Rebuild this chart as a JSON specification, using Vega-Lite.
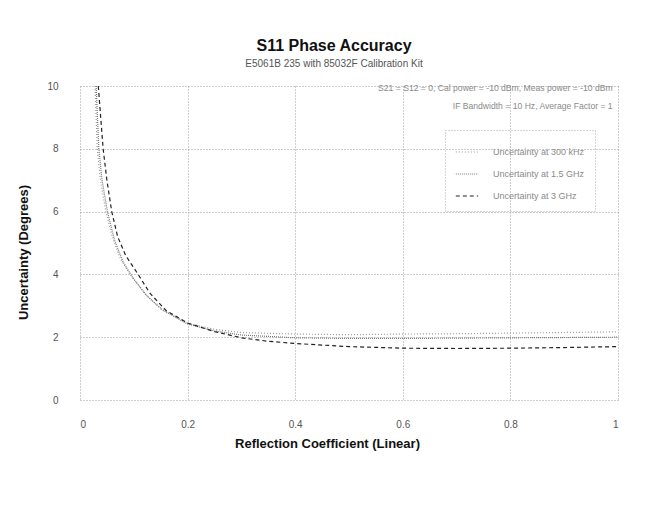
{
  "$schema": "https://vega.github.io/schema/vega-lite/v6.json",
  "autosize": {"type": "none"},
  "padding": {"left": 80, "top": 86, "right": 51, "bottom": 106},
  "width": 538,
  "height": 314,
  "background": "white",
  "title": {
    "text": "S11 Phase Accuracy",
    "subtitle": "E5061B 235 with 85032F Calibration Kit",
    "font": "Liberation Sans",
    "fontSize": 16,
    "fontWeight": "bold",
    "color": "#111",
    "subtitleFont": "Liberation Sans",
    "subtitleFontSize": 10,
    "subtitleColor": "#555",
    "subtitlePadding": 5,
    "offset": 12,
    "dx": -15,
    "anchor": "middle"
  },
  "datasets": {
    "curves": [
      {"x": 0.028, "y": 10, "series": "Uncertainty at 300 kHz"},
      {"x": 0.032, "y": 8, "series": "Uncertainty at 300 kHz"},
      {"x": 0.038, "y": 7, "series": "Uncertainty at 300 kHz"},
      {"x": 0.048, "y": 6, "series": "Uncertainty at 300 kHz"},
      {"x": 0.06, "y": 5.2, "series": "Uncertainty at 300 kHz"},
      {"x": 0.075, "y": 4.5, "series": "Uncertainty at 300 kHz"},
      {"x": 0.093, "y": 4, "series": "Uncertainty at 300 kHz"},
      {"x": 0.12, "y": 3.4, "series": "Uncertainty at 300 kHz"},
      {"x": 0.15, "y": 2.9, "series": "Uncertainty at 300 kHz"},
      {"x": 0.2, "y": 2.45, "series": "Uncertainty at 300 kHz"},
      {"x": 0.25, "y": 2.25, "series": "Uncertainty at 300 kHz"},
      {"x": 0.3, "y": 2.15, "series": "Uncertainty at 300 kHz"},
      {"x": 0.4, "y": 2.1, "series": "Uncertainty at 300 kHz"},
      {"x": 0.5, "y": 2.08, "series": "Uncertainty at 300 kHz"},
      {"x": 0.6, "y": 2.1, "series": "Uncertainty at 300 kHz"},
      {"x": 0.7, "y": 2.11, "series": "Uncertainty at 300 kHz"},
      {"x": 0.8, "y": 2.13, "series": "Uncertainty at 300 kHz"},
      {"x": 0.9, "y": 2.15, "series": "Uncertainty at 300 kHz"},
      {"x": 1.0, "y": 2.17, "series": "Uncertainty at 300 kHz"},

      {"x": 0.03, "y": 10, "series": "Uncertainty at 1.5 GHz"},
      {"x": 0.035, "y": 8, "series": "Uncertainty at 1.5 GHz"},
      {"x": 0.041, "y": 7, "series": "Uncertainty at 1.5 GHz"},
      {"x": 0.051, "y": 6, "series": "Uncertainty at 1.5 GHz"},
      {"x": 0.064, "y": 5.1, "series": "Uncertainty at 1.5 GHz"},
      {"x": 0.08, "y": 4.4, "series": "Uncertainty at 1.5 GHz"},
      {"x": 0.098, "y": 3.9, "series": "Uncertainty at 1.5 GHz"},
      {"x": 0.125, "y": 3.3, "series": "Uncertainty at 1.5 GHz"},
      {"x": 0.155, "y": 2.85, "series": "Uncertainty at 1.5 GHz"},
      {"x": 0.2, "y": 2.42, "series": "Uncertainty at 1.5 GHz"},
      {"x": 0.25, "y": 2.2, "series": "Uncertainty at 1.5 GHz"},
      {"x": 0.3, "y": 2.07, "series": "Uncertainty at 1.5 GHz"},
      {"x": 0.4, "y": 1.98, "series": "Uncertainty at 1.5 GHz"},
      {"x": 0.5, "y": 1.96, "series": "Uncertainty at 1.5 GHz"},
      {"x": 0.6, "y": 1.96, "series": "Uncertainty at 1.5 GHz"},
      {"x": 0.7, "y": 1.97, "series": "Uncertainty at 1.5 GHz"},
      {"x": 0.8, "y": 1.98, "series": "Uncertainty at 1.5 GHz"},
      {"x": 0.9, "y": 1.99, "series": "Uncertainty at 1.5 GHz"},
      {"x": 1.0, "y": 2.0, "series": "Uncertainty at 1.5 GHz"},

      {"x": 0.034, "y": 10, "series": "Uncertainty at 3 GHz"},
      {"x": 0.043, "y": 8, "series": "Uncertainty at 3 GHz"},
      {"x": 0.05, "y": 7, "series": "Uncertainty at 3 GHz"},
      {"x": 0.059, "y": 6, "series": "Uncertainty at 3 GHz"},
      {"x": 0.07, "y": 5.2, "series": "Uncertainty at 3 GHz"},
      {"x": 0.085, "y": 4.6, "series": "Uncertainty at 3 GHz"},
      {"x": 0.108, "y": 4, "series": "Uncertainty at 3 GHz"},
      {"x": 0.13, "y": 3.4, "series": "Uncertainty at 3 GHz"},
      {"x": 0.16, "y": 2.85, "series": "Uncertainty at 3 GHz"},
      {"x": 0.2, "y": 2.45, "series": "Uncertainty at 3 GHz"},
      {"x": 0.25, "y": 2.18, "series": "Uncertainty at 3 GHz"},
      {"x": 0.3, "y": 1.98, "series": "Uncertainty at 3 GHz"},
      {"x": 0.35, "y": 1.87, "series": "Uncertainty at 3 GHz"},
      {"x": 0.4, "y": 1.8, "series": "Uncertainty at 3 GHz"},
      {"x": 0.5, "y": 1.7, "series": "Uncertainty at 3 GHz"},
      {"x": 0.6, "y": 1.65, "series": "Uncertainty at 3 GHz"},
      {"x": 0.7, "y": 1.64, "series": "Uncertainty at 3 GHz"},
      {"x": 0.8, "y": 1.65, "series": "Uncertainty at 3 GHz"},
      {"x": 0.9, "y": 1.67, "series": "Uncertainty at 3 GHz"},
      {"x": 1.0, "y": 1.7, "series": "Uncertainty at 3 GHz"}
    ],
    "notes": [
      {"x": 0.99, "y": 9.95, "label": "S21 = S12 = 0, Cal power = -10 dBm, Meas power = -10 dBm"},
      {"x": 0.99, "y": 9.35, "label": "IF Bandwidth = 10 Hz, Average Factor = 1"}
    ]
  },
  "layer": [
    {
      "data": {"name": "curves"},
      "mark": {"type": "line", "strokeWidth": 1.2},
      "encoding": {
        "x": {
          "field": "x", "type": "quantitative",
          "scale": {"domain": [0, 1], "nice": false},
          "axis": {"values": [0, 0.2, 0.4, 0.6, 0.8, 1], "format": ".1~f", "title": "Reflection Coefficient (Linear)", "titleX": 247}
        },
        "y": {
          "field": "y", "type": "quantitative",
          "scale": {"domain": [0, 10], "nice": false},
          "axis": {"values": [0, 2, 4, 6, 8, 10], "title": "Uncertainty (Degrees)", "titleY": 166}
        },
        "color": {
          "field": "series", "type": "nominal",
          "scale": {"domain": ["Uncertainty at 300 kHz", "Uncertainty at 1.5 GHz", "Uncertainty at 3 GHz"], "range": ["#999999", "#777777", "#222222"]},
          "legend": {"title": null}
        },
        "strokeDash": {
          "field": "series", "type": "nominal",
          "scale": {"domain": ["Uncertainty at 300 kHz", "Uncertainty at 1.5 GHz", "Uncertainty at 3 GHz"], "range": [[1, 2], [1, 1], [4, 3]]},
          "legend": {"title": null}
        }
      }
    },
    {
      "data": {"name": "notes"},
      "mark": {"type": "text", "align": "right", "baseline": "middle", "font": "Liberation Sans", "fontSize": 8.6, "color": "#8a8a8a"},
      "encoding": {
        "x": {"field": "x", "type": "quantitative"},
        "y": {"field": "y", "type": "quantitative"},
        "text": {"field": "label"}
      }
    }
  ],
  "config": {
    "view": {"stroke": null},
    "font": "Liberation Sans",
    "axis": {
      "domain": false,
      "ticks": false,
      "grid": true,
      "gridColor": "#9a9a9a",
      "gridDash": [1, 2],
      "gridWidth": 1,
      "labelFont": "Liberation Sans",
      "labelFontSize": 10,
      "labelColor": "#555",
      "titleFont": "Liberation Sans",
      "titleFontSize": 13,
      "titleFontWeight": "bold",
      "titleColor": "#111"
    },
    "axisX": {"labelPadding": 19, "titlePadding": 8},
    "axisY": {"labelPadding": 22, "titlePadding": 16},
    "legend": {
      "orient": "none",
      "legendX": 365,
      "legendY": 44,
      "strokeColor": "#aaa",
      "strokeDash": [1, 2],
      "padding": 10,
      "labelFont": "Liberation Sans",
      "labelFontSize": 9,
      "labelColor": "#8a8a8a",
      "symbolType": "stroke",
      "symbolSize": 500,
      "symbolStrokeWidth": 1.2,
      "rowPadding": 5,
      "labelOffset": 14
    }
  }
}
